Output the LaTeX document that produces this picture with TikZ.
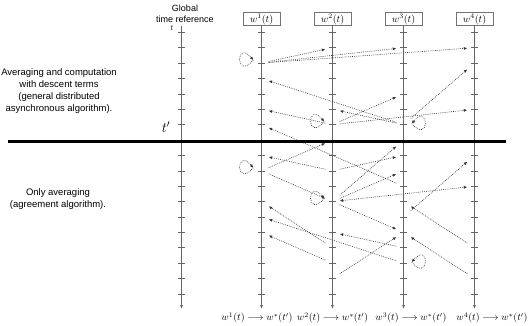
\documentclass[tikz,border=0pt]{standalone}
\usepackage{amsmath}
\usepackage{fontspec}
\newfontfamily\labelfont{Liberation Sans}
\usetikzlibrary{arrows.meta}

\tikzset{
  axis/.style={draw=black!60, line width=0.6pt, -{Latex[length=4pt,width=3pt]}},
  tickmark/.style={draw=black!60, line width=0.6pt},
  port/.style={rectangle, inner sep=0pt, minimum width=14pt, minimum height=18pt},
  msg/.style={dash pattern=on 0.8pt off 1.1pt, draw=black!80, line width=0.6pt, -{Latex[length=3.5pt,width=3pt]}},
  msgboth/.style={msg, {Latex[length=3.5pt,width=3pt]}-{Latex[length=3.5pt,width=3pt]}},
  wbox/.style={draw=black!55, line width=1pt, minimum width=37pt, minimum height=13pt, inner sep=1pt},
  side/.style={font=\labelfont\fontsize{9.5}{12.2}\selectfont, align=center},
  smallside/.style={font=\labelfont\fontsize{9}{11}\selectfont, align=center},
  loopl/.style={to path={.. controls +(-18,21) and +(-18,-21) .. (\tikztotarget)}},
  loopr/.style={to path={.. controls +(18,21) and +(18,-21) .. (\tikztotarget)}},
}

\begin{document}
\begin{tikzpicture}[x=1pt, y=-1pt]
  \useasboundingbox (0,0) rectangle (528,326);
  \node[smallside] (gref) at (185,13.5) {Global\\time reference};
  \node (tlab) at (172,28.5) {\footnotesize $t$};
  \node (tprime) at (166,127.5) {\Large $t'$};
  \node[side] (upper) at (59,91) {Averaging and computation\\with descent terms\\(general distributed\\asynchronous algorithm).};
  \node[side] (lower) at (58,199) {Only averaging\\(agreement algorithm).};
  \coordinate (g0) at (181.5,26);
  \coordinate (g1) at (181.5,309);
  \draw[axis] (g0) -- (g1);
  \foreach \k in {0,...,17}
    \draw[tickmark] (178,{32.3+15.39*\k}) -- ++(7,0);
  \foreach \i/\x in {1/261.5, 2/332.5, 3/403.5, 4/474.5} {
    \node[wbox] (b\i) at (\x,19.3) {$w^{\i}(t)$};
    \coordinate (e\i) at (\x,309);
    \draw[axis] (b\i) -- (e\i);
    \foreach \k in {0,...,17} {
      \node[port] (w\i_\k) at (\x,{32.3+15.39*\k}) {};
      \draw[tickmark] (\x-3.5,{32.3+15.39*\k}) -- ++(7,0);
    }
  }
  \node (r1) at (257,318) {$w^1(t)\longrightarrow w^*(t')$};
  \node (r2) at (332.5,318) {$w^2(t)\longrightarrow w^*(t')$};
  \node (r3) at (411,318) {$w^3(t)\longrightarrow w^*(t')$};
  \node (r4) at (492,318) {$w^4(t)\longrightarrow w^*(t')$};
  \draw[msg] ([xshift=-1pt,yshift=3pt]w1_2.west) to[loopl] ([xshift=-1pt,yshift=3pt]w1_2.west);
  \draw[msg] (w1_2) -- (w2_1);
  \draw[msg] (w1_2) -- (w3_1);
  \draw[msg] (w1_2) -- (w4_1);
  \draw[msg] (w3_6) -- (w1_3);
  \draw[msg] (w2_6) -- (w1_5);
  \draw[msg] ([xshift=-1pt,yshift=3pt]w2_6.west) to[loopl] ([xshift=-1pt,yshift=3pt]w2_6.west);
  \draw[msg] (w2_6) -- (w3_4);
  \draw[msg] (w2_6) -- (w4_5);
  \draw[msg] (w3_6) -- (w2_5);
  \draw[msg] ([xshift=1pt,yshift=1pt]w3_6.east) to[loopr] ([xshift=1pt,yshift=1pt]w3_6.east);
  \draw[msg] (w3_6) -- (w4_2);
  \draw[msg] (w3_10) -- (w1_6);
  \draw[msg] (w1_9) -- (w2_7);
  \draw[msg] (w2_11) -- (w3_7);
  \draw[msg] (w2_9) -- (w1_8);
  \draw[msg] ([xshift=-1pt,yshift=3pt]w1_9.west) to[loopl] ([xshift=-1pt,yshift=3pt]w1_9.west);
  \draw[msg] (w1_9) -- (w2_11);
  \draw[msg] ([xshift=-1pt,yshift=3pt]w2_11.west) to[loopl] ([xshift=-1pt,yshift=3pt]w2_11.west);
  \draw[msg] (w2_9) -- (w3_8);
  \draw[msg] (w2_11) -- (w3_9);
  \draw[msgboth] (w2_11) -- (w4_10);
  \draw[msg] (w2_11) -- (w3_13);
  \draw[msg] (w2_16) -- (w3_13);
  \draw[msg] (w3_12) -- (w4_8);
  \draw[msg] (w4_14) -- (w3_11);
  \draw[msg] (w4_16) -- (w3_13);
  \draw[msg] ([xshift=1pt,yshift=1pt]w3_15.east) to[loopr] ([xshift=1pt,yshift=1pt]w3_15.east);
  \draw[msg] (w2_14) -- (w1_11);
  \draw[msg] (w3_15) -- (w1_12);
  \draw[msg] (w2_15) -- (w1_13);
  \draw[msg] (w3_14) -- (w2_13);
  \coordinate (cutl) at (8,141.3);
  \coordinate (cutr) at (505.5,141.3);
  \draw[line width=2.5pt] (cutl) -- (cutr);
\end{tikzpicture}
\end{document}
